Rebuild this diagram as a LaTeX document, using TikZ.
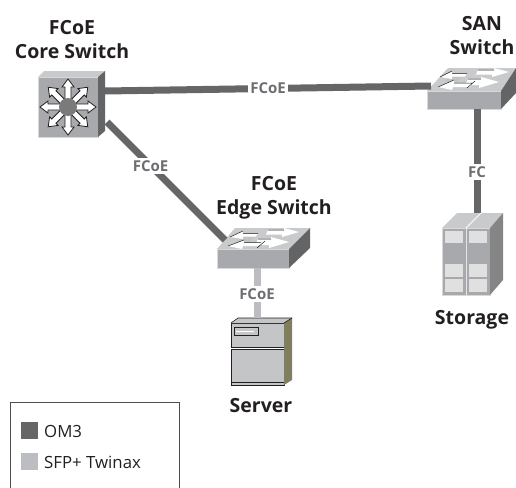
\documentclass[tikz,border=0pt]{standalone}
\usepackage{fontspec}
\setmainfont{Open Sans}
\definecolor{linkdark}{HTML}{666668}
\definecolor{linklight}{HTML}{BCBDC0}
\definecolor{lbl}{HTML}{6D6E71}
\definecolor{ink}{HTML}{231F20}
\definecolor{face}{HTML}{A7A9AC}
\definecolor{facetop}{HTML}{C9CACC}
\definecolor{faceside}{HTML}{636466}
\definecolor{olive}{HTML}{7F7F5F}
\definecolor{srv}{HTML}{C4C5C7}
\tikzset{
  x=1pt,y=-1pt,
  om/.style={line width=7pt,draw=linkdark},
  twin/.style={line width=7pt,draw=linklight},
  linklabel/.style={fill=white,text=lbl,font=\bfseries\fontsize{15}{17}\selectfont,inner sep=2.5pt},
  devlabel/.style={text=ink,font=\bfseries\fontsize{19.5}{24}\selectfont,align=center,inner sep=0pt},
  legendtext/.style={text=ink,font=\fontsize{16.8}{19}\selectfont,anchor=west,inner sep=0pt},
  swatch/.style={minimum size=17pt,inner sep=0pt,anchor=north west},
  outl/.style={draw=ink,line width=.7pt},
  frontface/.style={fill=face,draw=white!85!black,line width=.8pt,inner sep=0pt,anchor=north west},
}
\begin{document}
\begin{tikzpicture}
\useasboundingbox (0,0) rectangle (516,487);
% Device front faces
\node[frontface,minimum width=60pt,minimum height=60pt] (core) at (38,77) {};
\fill[facetop] (38,77) -- (44,71) -- (105,71) -- (98,77) -- cycle;
\fill[faceside] (98,77) -- (105,71) -- (105,131) -- (98,137) -- cycle;
\foreach \a in {0,45,...,315}{
  \begin{scope}[shift={(68,107)},rotate=\a]
    \draw[fill=white,line width=.8pt,draw=ink] (6,-3) -- (20,-3) -- (20,-6) -- (28,0) -- (20,6) -- (20,3) -- (6,3) -- cycle;
  \end{scope}
}
\fill[black!52] (68,107) circle (9);

\node[frontface,minimum width=74pt,minimum height=18pt] (san) at (427,91) {};
\fill[facetop] (427,91) -- (448,68) -- (516,68) -- (501,91) -- cycle;
\fill[faceside] (501,91) -- (516,68) -- (516,93) -- (501,109) -- cycle;
\begin{scope}[shift={(427,68)}]
  \fill[face!70!white] (21,9) -- (33,9) -- (30,14) -- (18,14) -- cycle;
  \fill[white] (13,9) -- (25,3) -- (25,5.5) -- (40,5.5) -- (38,8.5) -- (25,8.5) -- (25,11) -- cycle;
  \fill[white] (51,2) -- (67,2) -- (67,0) -- (82,4) -- (65,9) -- (65,6.5) -- (49,6.5) -- cycle;
  \fill[white] (11,19) -- (27,12) -- (27,15) -- (45,15) -- (43,19) -- (26,19) -- (25,22) -- cycle;
  \fill[white] (41,11) -- (54,11) -- (54,9) -- (72,14) -- (52,20) -- (52,17) -- (38,17) -- cycle;
  \draw[ink,line width=.5pt] (13,9) -- (25,3) (40,5.5) -- (25,5.5) (51,2) -- (67,2) (41,11) -- (54,11) (11,19) -- (27,12) (27,15) -- (45,15) (48,13) -- (40,20);
\end{scope}

\node[frontface,minimum width=72pt,minimum height=19pt] (edge) at (217,249) {};
\fill[facetop] (217,249) -- (235,228) -- (310,228) -- (289,249) -- cycle;
\fill[faceside] (289,249) -- (310,228) -- (310,248) -- (289,268) -- cycle;
\begin{scope}[shift={(217,228)}]
  \fill[face!70!white] (23,9) -- (36,9) -- (32,15) -- (19,15) -- cycle;
  \fill[white] (13,9) -- (26,3) -- (26,5.5) -- (41,5.5) -- (39,8.5) -- (26,8.5) -- (26,11) -- cycle;
  \fill[white] (51,2) -- (67,2) -- (67,0) -- (82,4) -- (65,9) -- (65,6.5) -- (49,6.5) -- cycle;
  \fill[white] (11,18) -- (27,12) -- (27,14.5) -- (44,14.5) -- (41,18) -- (26,18) -- (25,21) -- cycle;
  \fill[white] (41,11) -- (54,11) -- (54,9) -- (72,14) -- (52,20) -- (52,17) -- (38,17) -- cycle;
  \draw[ink,line width=.5pt] (13,9) -- (26,3) (41,5.5) -- (26,5.5) (51,2) -- (67,2) (41,11) -- (54,11) (11,18) -- (27,12) (27,14.5) -- (44,14.5) (48,13) -- (40,20);
\end{scope}

\node[frontface,minimum width=48pt,minimum height=67pt] (storage) at (442,228) {};
\fill[facetop] (442,228) -- (457,213) -- (503,213) -- (490,228) -- cycle;
\draw[white,line width=.8pt] (466,228) -- (481,213);
\fill[black!48] (490,228) -- (503,213) -- (503,280) -- (490,295) -- cycle;
\draw[white!90!black,line width=.8pt] (466,228) -- (466,295);
\foreach \px in {445,469}{
  \foreach \py/\ph in {231/12,264/13,279/13}{
    \fill[black!12] (\px,\py) rectangle ++(18,\ph);
  }
}

\node[outl,fill=srv,minimum width=53pt,minimum height=62pt,inner sep=0pt,anchor=north west] (server) at (231,323) {};
\fill[srv] (231,323) -- (238,318) -- (292,318) -- (284,323) -- cycle;
\draw[ink,line width=.6pt] (231,323) -- (238,318) -- (292,318);
\fill[olive] (284,323) -- (292,318) -- (292,380) -- (284,385) -- cycle;
\draw[ink,line width=.6pt] (284,323) -- (292,318);
\draw[white,line width=1pt] (231,348) -- (284,348);
\draw[ink,line width=.7pt] (231,347) -- (284,347) (231,349) -- (284,349) (231,382) -- (284,382);
\draw[ink,line width=.5pt] (234.5,327) rectangle (258,335);
\draw[white,line width=.8pt] (236,331) -- (254,331);

% Connector end points
\coordinate (coreE) at (105,91);
\coordinate (sanW) at (431,86);
\coordinate (coreS) at (107,122);
\coordinate (edgeN) at (225,240);
\coordinate (sanS) at (477,109);
\coordinate (storN) at (477,213);
\coordinate (edgeS) at (257,268);
\coordinate (servN) at (257,318);

\draw[om] (coreE) -- (sanW) node[linklabel,pos=.5] {FCoE};
\draw[om] (coreS) -- (edgeN) node[linklabel,pos=.37] {FCoE};
\draw[om] (sanS) -- (storN) node[linklabel,pos=.61] {FC};
\draw[twin] (edgeS) -- (servN) node[linklabel,pos=.52] {FCoE};

% Device labels
\node[devlabel] (lcore) at (72,39.5) {FCoE\\Core Switch};
\node[devlabel] (lsan) at (482,35.5) {SAN\\Switch};
\node[devlabel] (ledge) at (274,197.5) {FCoE\\Edge Switch};
\node[devlabel] (lstor) at (472,320) {Storage};
\node[devlabel] (lserv) at (261,406) {Server};

% Legend
\draw[draw=black!70,line width=.7pt] (10,488) -- (10,402) -- (179,402) -- (179,488);
\node[swatch,fill=linkdark] (sw1) at (21,422) {};
\node[swatch,fill=linklight] (sw2) at (21,453) {};
\node[legendtext] (t1) at (44,431) {OM3};
\node[legendtext] (t2) at (44,462) {SFP+ Twinax};
\end{tikzpicture}
\end{document}
